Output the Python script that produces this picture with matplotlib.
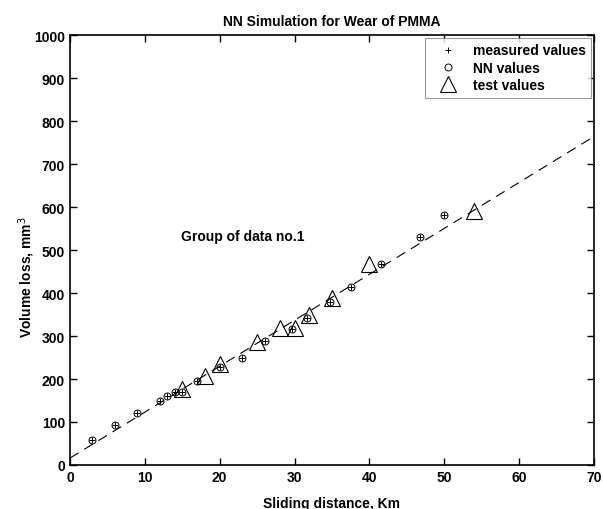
import numpy as np
import matplotlib
matplotlib.use('Agg')
import matplotlib.pyplot as plt

plt.rcParams['font.family'] = ['Liberation Sans', 'DejaVu Sans']

# measured / NN values (they sit on top of each other)
meas_x = [3, 6, 9, 12, 13, 14, 15, 17, 20, 23, 26, 29.7, 31.7, 34.7, 37.6, 41.6, 46.7, 50]
meas_y = [57, 94, 122, 148, 161, 169, 169, 195, 229, 250, 288, 316, 343, 378, 415, 467, 531, 581]
nn_x = meas_x
nn_y = meas_y

# test values
test_x = [15, 18, 20, 25, 28, 30, 32, 35, 40, 54]
test_y = [177, 208, 235, 285, 318, 319, 349, 388, 467, 590]

# NN trend line end points
fit_x = [0, 70]
fit_y = [16, 764]

fig = plt.figure(figsize=(6.03, 5.10), dpi=100)
ax = fig.add_axes([0.116, 0.0863, 0.869, 0.843])

ax.plot(fit_x, fit_y, color='k', lw=0.8, dashes=(9, 6))
ax.plot(meas_x, meas_y, '+', color='k', ms=5, mew=0.7, label='measured values')
ax.plot(nn_x, nn_y, 'o', mfc='none', mec='k', ms=5, mew=0.7, label='NN values')
ax.plot(test_x, test_y, '^', mfc='none', mec='k', ms=11, mew=0.8, label='test values')

ax.set_xlim(0, 70)
ax.set_ylim(0, 1000)
ax.set_xticks(np.arange(0, 71, 10))
ax.set_yticks(np.arange(0, 1001, 100))
ax.tick_params(direction='in', top=True, right=True, length=5, width=1,
               labelsize=10)
for lab in ax.get_xticklabels() + ax.get_yticklabels():
    lab.set_fontweight('bold')
for s in ax.spines.values():
    s.set_linewidth(1.2)

ax.set_title('NN Simulation for Wear of PMMA', fontsize=10, fontweight='bold', pad=7)
ax.set_xlabel('Sliding distance, Km', fontsize=10, fontweight='bold', labelpad=9)
ax.set_ylabel('Volume loss, mm$^3$', fontsize=10, fontweight='bold')
ax.yaxis.set_label_coords(-0.062, 0.44)

ax.text(14.8, 532, 'Group of data no.1', fontsize=10, fontweight='bold',
        va='center', ha='left')

leg = ax.legend(loc='upper right', prop={'weight': 'bold', 'size': 10},
                fancybox=False, edgecolor='0.5', borderaxespad=0.2,
                handletextpad=0.6, labelspacing=0.25, borderpad=0.4,
                handlelength=2.4)
leg.get_frame().set_linewidth(0.8)

fig.savefig('out.png', dpi=100)
